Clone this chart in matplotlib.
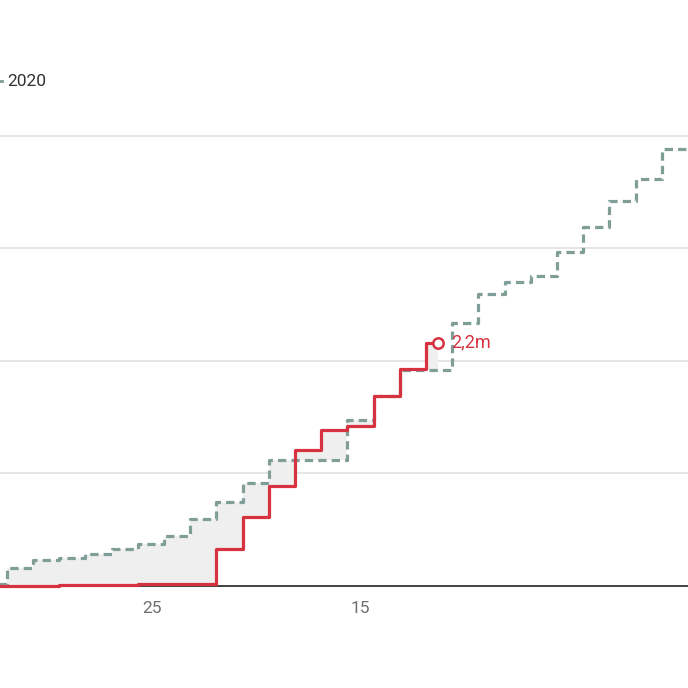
import matplotlib
matplotlib.use("Agg")
from matplotlib import pyplot as plt
from matplotlib.lines import Line2D
import numpy as np

plt.rcParams['font.family'] = ['Roboto', 'DejaVu Sans']

# step edges on the x axis (reversed axis, counting down)
edges = list(np.round(33.19 - 1.2536 * np.arange(28), 3))
red_end_x = 11.29

# dashed series (2020), one value per step, starting off the left edge
gray = [0.013, 0.156, 0.227, 0.249, 0.280, 0.329, 0.369, 0.440, 0.596,
        0.743, 0.915, 1.117, 1.117, 1.117, 1.472, 1.686, 1.913, 1.913,
        2.338, 2.591, 2.698, 2.754, 2.970, 3.192, 3.423, 3.617, 3.881]

# red series (current year), ends partway through its last step
red = [0.0, 0.0, 0.0, 0.003, 0.005, 0.007, 0.010, 0.012, 0.012,
       0.322, 0.612, 0.888, 1.206, 1.383, 1.420, 1.686, 1.926, 2.160]

x_ticks = [25, 15]
grid_vals = [1, 2, 3, 4]
legend_label = "2020"

red_col = "#d6323f"
gray_col = "#7f9e98"

fig = plt.figure(figsize=(6.88, 6.88), dpi=100)
ax = fig.add_axes([0, 1 - 585.5 / 688, 1, 112.4 * 4.05 / 688])
ax.set_xlim(32.26, -0.66)
ax.set_ylim(0, 4.05)

for g in grid_vals:
    ax.axhline(g, color="#dedede", lw=1.1, zorder=1)
ax.axhline(0, color="#333333", lw=1.3, zorder=2, clip_on=False)

xg = edges[:len(gray)] + [edges[len(gray)]]
yg = gray + [gray[-1]]
xr = edges[:len(red)] + [red_end_x]
yr = red + [red[-1]]
yg_part = gray[:len(red)] + [gray[len(red) - 1]]

ax.fill_between(xr, yr, yg_part, step="post", color="#efefef", lw=0, zorder=1.5)
ax.plot(xg, yg, drawstyle="steps-post", color=gray_col, lw=2.3,
        dashes=[2.6, 1.6], zorder=3, clip_on=False)
ax.plot(xr, yr, drawstyle="steps-post", color=red_col, lw=2.3, zorder=4,
        clip_on=False)
ax.plot([red_end_x], [red[-1]], marker="o", ms=7.5, mfc="white",
        mec=red_col, mew=1.8, zorder=5)
ax.annotate(f"{red[-1]:.1f}m".replace(".", ","), (red_end_x, red[-1]),
            xytext=(9, 0), textcoords="offset points", va="center",
            ha="left", color=red_col, fontsize=13)

ax.set_xticks(x_ticks)
ax.set_xticklabels([str(t) for t in x_ticks])
ax.tick_params(axis="x", length=0, pad=11, labelsize=12.5, colors="#6e6e6e")
ax.set_yticks([])
for s in ax.spines.values():
    s.set_visible(False)

# legend entry, cut off at the left edge
fig.lines.append(Line2D([-0.02, 0.003], [0.882, 0.882], transform=fig.transFigure,
                        color=gray_col, lw=2))
fig.text(7 / 688, 0.882, legend_label, ha="left", va="center", fontsize=12.5,
         color="#333333")

fig.savefig("out.png", dpi=100)
